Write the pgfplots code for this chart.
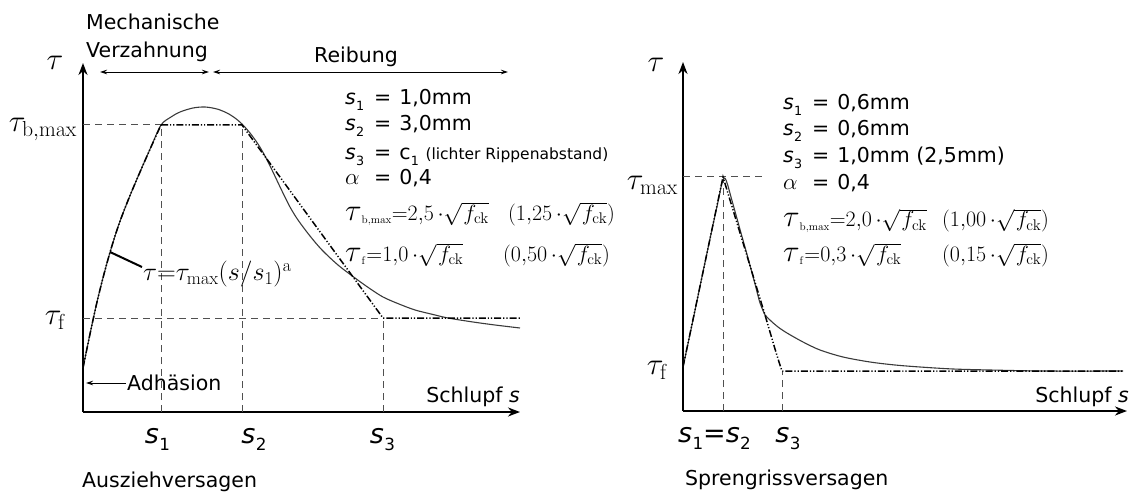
\RequirePackage{fix-cm}
\documentclass[border=0pt]{standalone}
\usepackage[no-math]{fontspec}
\setmainfont{DejaVu Sans}
\usepackage{pgfplots}
\pgfplotsset{compat=1.18}
\usetikzlibrary{arrows.meta}
\definecolor{curvegray}{HTML}{3A3A3A}
\definecolor{dashgray}{HTML}{505050}
\newcommand{\sub}[1]{\kern0.3pt\raisebox{-0.28em}{\scalebox{0.62}{#1}}}
\newcommand{\sv}[1]{\textit{s}\sub{#1}}
\newcommand{\btau}{\scalebox{1.4}{$\tau$}}
\newcommand{\rt}{\sqrt{\kern1.5pt f_{\mathrm{ck}}}}
\tikzset{
  dd/.style={black, line width=1.5pt, dash pattern=on 7pt off 2pt on 1.2pt off 2pt on 1.2pt off 2pt},
  guide/.style={dashgray, line width=1pt, dash pattern=on 7pt off 5pt},
  curve/.style={curvegray, line width=1.1pt},
  txt/.style={font=\fontsize{20.5}{24}\selectfont, inner sep=0pt},
  big/.style={font=\fontsize{27}{30}\selectfont, inner sep=0pt},
  tau/.style={font=\fontsize{31}{36}\selectfont, inner sep=0pt},
  frm/.style={font=\fontsize{22}{26}\selectfont, inner sep=0pt},
  ann/.style={font=\fontsize{26}{30}\selectfont, inner sep=0pt},
  thinarrow/.style={line width=0.9pt},
}
\pgfplotsset{
  diag/.style={
    x=1pt, y=1pt, anchor=south west, clip=false,
    axis lines=left, enlargelimits=false,
    axis line style={line width=2.4pt, -{Stealth[length=12pt,width=9pt]}},
    xtick=\empty, ytick=\empty,
  }
}
\begin{document}
\begin{tikzpicture}
\useasboundingbox (0pt,0pt) rectangle (1130pt,493pt);
% ---------------- left panel: Ausziehversagen ----------------
\begin{axis}[diag, at={(83pt,81pt)}, xmin=0, xmax=437, ymin=0, ymax=349]
\draw[guide] (axis cs:0,287) -- (axis cs:78,287);
\draw[guide] (axis cs:0,94) -- (axis cs:300,94);
\draw[guide] (axis cs:78,0) -- (axis cs:78,287);
\draw[guide] (axis cs:159,0) -- (axis cs:159,287);
\draw[guide] (axis cs:300,0) -- (axis cs:300,94);
% solid curve
\addplot[curve, smooth] coordinates {
(0,44) (7,78) (14,110) (21,138) (28,163) (36,188) (46,214) (57,240) (68,265) (78,287)
(88,295) (97,300) (110,304) (122,305) (134,303) (144,299) (152,294) (159,288)
(167,279) (175,268) (182,256) (189,242) (199,221) (207,205) (215,192) (227,176)
(239,162) (255,147) (272,134) (286,124) (300,115) (316,108) (332,102) (348,98)
(365,94) (390,90) (412,87) (437,84)};
% dash-dot model
\addplot[dd, smooth] coordinates {
(0,44) (7,78) (14,110) (21,138) (28,163) (36,188) (46,214) (57,240) (68,265) (78,287)};
\addplot[dd] coordinates {(78,287) (159,287) (300,94) (437,94)};
% annotations
\node[tau, anchor=base] at (axis cs:-28,342.3) {$\tau$};
\node[tau, anchor=base east] at (axis cs:-6,280.3) {$\tau_{\mathrm{b,max}}$};
\node[tau, anchor=base east] at (axis cs:-17,87.3) {$\tau_{\mathrm{f}}$};
\node[txt, anchor=base west] at (axis cs:3,382.6) {Mechanische};
\node[txt, anchor=base west] at (axis cs:3,354.6) {Verzahnung};
\node[txt, anchor=base] at (axis cs:273,349.6) {Reibung};
\draw[thinarrow, {Stealth[length=7pt,width=4.5pt]}-{Stealth[length=7pt,width=4.5pt]}] (axis cs:17,340) -- (axis cs:126,340);
\draw[thinarrow, {Stealth[length=7pt,width=4.5pt]}-{Stealth[length=7pt,width=4.5pt]}] (axis cs:130,340) -- (axis cs:425,340);
\draw[line width=2pt] (axis cs:27,160) -- (axis cs:59,145);
\node[ann, anchor=base west] at (axis cs:60,131.3) {$\tau{=}\tau_{\mathrm{max}}(s/s_1)^{\mathrm{a}}$};
\draw[thinarrow, {Stealth[length=7pt,width=4.5pt]}-] (axis cs:3,29) -- (axis cs:43,29);
\node[txt, anchor=base west] at (axis cs:44,21.6) {Adhäsion};
\node[txt, anchor=base east] at (axis cs:437,9.6) {Schlupf \textit{s}};
\node[big, anchor=base] at (axis cs:74.5,-31) {\sv{1}};
\node[big, anchor=base] at (axis cs:171,-31) {\sv{2}};
\node[big, anchor=base] at (axis cs:299.5,-31) {\sv{3}};
\node[txt, anchor=base west] at (axis cs:-1,-75) {Ausziehversagen};
% parameter block
\node[txt, anchor=base west] at (axis cs:262,307.6) {\makebox[29pt][l]{\sv{1}}=\kern8pt1,0mm};
\node[txt, anchor=base west] at (axis cs:262,281.6) {\makebox[29pt][l]{\sv{2}}=\kern8pt3,0mm};
\node[txt, anchor=base west] at (axis cs:262,252.6) {\makebox[29pt][l]{\sv{3}}=\kern8pt c\sub{1} {\fontsize{15.5}{18}\selectfont(lichter Rippenabstand)}};
\node[txt, anchor=base west] at (axis cs:262,227.6) {\makebox[29pt][l]{\fontsize{23}{27}\selectfont$\alpha$}=\kern8pt0,4};
\node[frm, anchor=base west] at (axis cs:262,191.5) {\btau$_{\scriptscriptstyle\mathrm{b,max}}{=}2{,}5\,{\cdot}\rt$};
\node[frm, anchor=base west] at (axis cs:425,191.5) {$(1{,}25\,{\cdot}\rt)$};
\node[frm, anchor=base west] at (axis cs:262,150.5) {\btau$_{\scriptscriptstyle\mathrm{f}}{=}1{,}0\,{\cdot}\rt$};
\node[frm, anchor=base west] at (axis cs:420,150.5) {$(0{,}50\,{\cdot}\rt)$};
\end{axis}
% ---------------- right panel: Sprengrissversagen ----------------
\begin{axis}[diag, at={(683pt,82pt)}, xmin=0, xmax=444, ymin=0, ymax=349]
\draw[guide] (axis cs:0,234) -- (axis cs:79,234);
\draw[guide] (axis cs:40,0) -- (axis cs:40,234);
\draw[guide] (axis cs:99,0) -- (axis cs:99,40);
\addplot[curve, smooth] coordinates {
(0,44) (10,91) (20,139) (28,177) (33,200) (36,214) (38,224) (40,231) (41.5,233)
(43,231) (45,225) (48,214) (53,196) (58,178) (65,153) (72,127) (77,108) (82,96)};
\addplot[curve, smooth] coordinates {
(82,96) (88,90) (95,84) (104,78) (120,69) (137,61) (160,54) (187,49) (212,46)
(237,44) (270,42) (307,41) (360,40) (440,40)};
\addplot[dd] coordinates {(0,44) (40,234) (82,96) (87,79) (92,62) (96,49) (99,40) (440,40)};
\node[tau, anchor=base] at (axis cs:-27,339.3) {$\tau$};
\node[tau, anchor=base east] at (axis cs:-5,221.3) {$\tau_{\mathrm{max}}$};
\node[tau, anchor=base east] at (axis cs:-15,36.3) {$\tau_{\mathrm{f}}$};
\node[txt, anchor=base east] at (axis cs:446,8.6) {Schlupf \textit{s}};
\node[big, anchor=base] at (axis cs:31.5,-31) {\sv{1}=\sv{2}};
\node[big, anchor=base] at (axis cs:105,-31) {\sv{3}};
\node[txt, anchor=base west] at (axis cs:2,-74.4) {Sprengrissversagen};
\node[txt, anchor=base west] at (axis cs:100,301.6) {\makebox[29pt][l]{\sv{1}}=\kern8pt0,6mm};
\node[txt, anchor=base west] at (axis cs:100,275.6) {\makebox[29pt][l]{\sv{2}}=\kern8pt0,6mm};
\node[txt, anchor=base west] at (axis cs:100,248.6) {\makebox[29pt][l]{\sv{3}}=\kern8pt1,0mm (2,5mm)};
\node[txt, anchor=base west] at (axis cs:100,221.6) {\makebox[29pt][l]{\fontsize{23}{27}\selectfont$\alpha$}=\kern8pt0,4};
\node[frm, anchor=base west] at (axis cs:100,184) {\btau$_{\scriptscriptstyle\mathrm{b,max}}{=}2{,}0\,{\cdot}\rt$};
\node[frm, anchor=base west] at (axis cs:259,184) {$(1{,}00\,{\cdot}\rt)$};
\node[frm, anchor=base west] at (axis cs:100,149.5) {\btau$_{\scriptscriptstyle\mathrm{f}}{=}0{,}3\,{\cdot}\rt$};
\node[frm, anchor=base west] at (axis cs:259,149.5) {$(0{,}15\,{\cdot}\rt)$};
\end{axis}
\end{tikzpicture}
\end{document}
